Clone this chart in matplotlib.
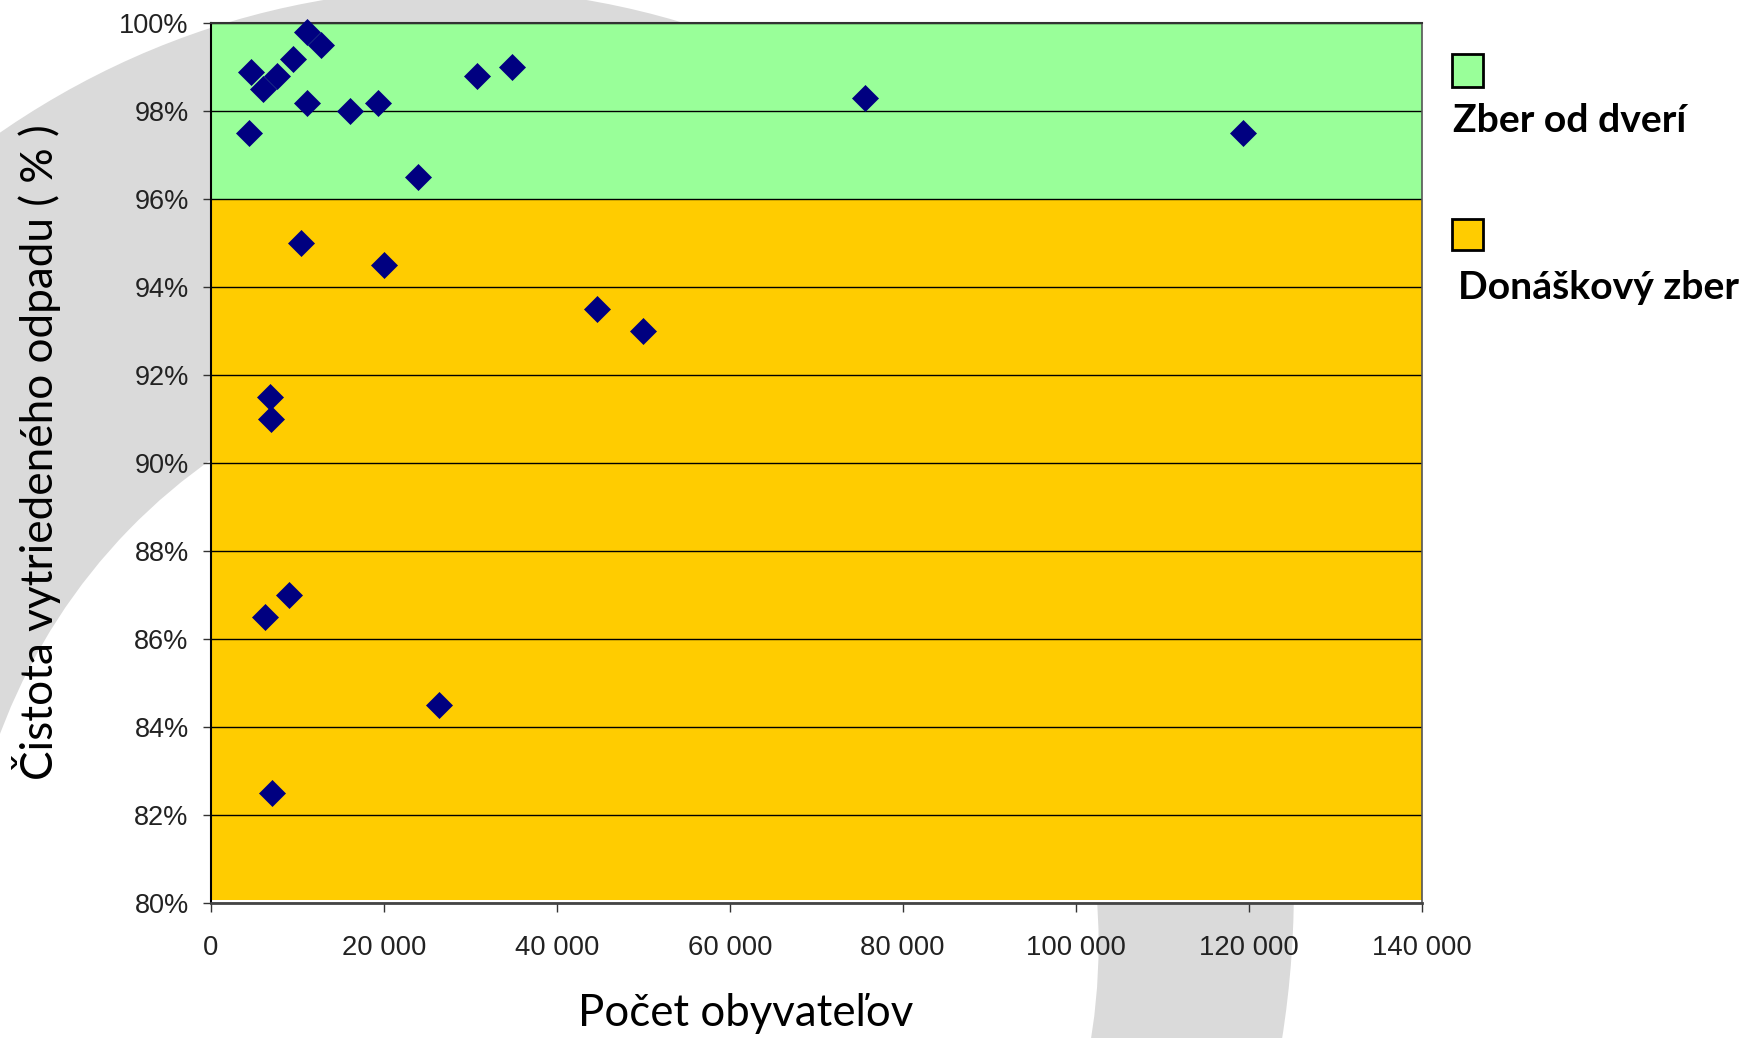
import matplotlib
matplotlib.use("Agg")
import matplotlib.pyplot as plt
from matplotlib.patches import Ellipse, Rectangle

# Počet obyvateľov (x) a čistota vytriedeného odpadu v % (y)
obyvatelia = [4600, 4400, 6000, 7600, 9500, 11100, 12700, 11100, 16100, 19300,
              23900, 30800, 34800, 75600, 119300,
              10400, 20000, 44700, 50000, 6800, 6900, 9000, 6200, 26400, 7100]
cistota = [98.9, 97.5, 98.5, 98.8, 99.2, 99.8, 99.5, 98.2, 98.0, 98.2,
           96.5, 98.8, 99.0, 98.3, 97.5,
           95.0, 94.5, 93.5, 93.0, 91.5, 91.0, 87.0, 86.5, 84.5, 82.5]

# pasma pozadia: (od, do, farba, popis)
pasma = [(96, 100, "#99ff99", "Zber od dverí"),
         (80, 96, "#ffcc00", "Donáškový zber")]

x_ticks = [0, 20000, 40000, 60000, 80000, 100000, 120000, 140000]
x_labels = ["0", "20 000", "40 000", "60 000", "80 000", "100 000", "120 000", "140 000"]
y_ticks = list(range(80, 101, 2))
y_labels = [f"{v}%" for v in y_ticks]

plt.rcParams["font.family"] = ["Liberation Sans", "DejaVu Sans"]

fig = plt.figure(figsize=(17.4, 10.38), dpi=100, facecolor="white")

# sivy oblúk z pozadia snímky
bg = fig.add_axes([0, 0, 1, 1], zorder=-1)
bg.set_xlim(0, 1568)
bg.set_ylim(935, 0)
bg.axis("off")
bg.add_patch(Ellipse((410, 800), 2 * 756, 2 * 810, color="#dadada", lw=0))
bg.add_patch(Ellipse((478, 850), 2 * 512, 2 * 527, color="white", lw=0))

ax = fig.add_axes([0.1212, 0.1298, 0.6958, 0.8477])
ax.set_facecolor("white")
ax.set_xlim(0, 140000)
ax.set_ylim(80, 100)

for od, do, farba, _ in pasma:
    ax.axhspan(od + (0.08 if od == 80 else 0), do, color=farba, lw=0, zorder=0)

ax.set_yticks(y_ticks)
ax.set_yticklabels(y_labels)
ax.set_xticks(x_ticks)
ax.set_xticklabels(x_labels)
ax.yaxis.grid(True, color="black", lw=1.0, zorder=1)
ax.set_axisbelow(True)

ax.plot(obyvatelia, cistota, "D", ms=13.5, color="#000080", mec="#000080",
        mew=0.5, clip_on=False, zorder=3)

ax.spines["left"].set_color("black")
ax.spines["left"].set_linewidth(1.5)
ax.spines["top"].set_color("#333333")
ax.spines["top"].set_linewidth(1.5)
ax.spines["bottom"].set_color("#444444")
ax.spines["bottom"].set_linewidth(2)
ax.spines["right"].set_color("#555555")
ax.spines["right"].set_linewidth(1.2)

ax.tick_params(axis="y", direction="out", length=6, width=1, color="#333333",
               pad=10, labelsize=19.5, labelcolor="#222222")
ax.tick_params(axis="x", direction="out", length=6.5, width=1, color="#333333",
               pad=16, labelsize=19.8, labelcolor="#222222")

fig.text(0.021, 0.5645, "Čistota vytriedeného odpadu ( % )", rotation=90,
         ha="center", va="center", fontsize=31.8, family=["Lato", "DejaVu Sans"])
fig.text(0.4286, 0.012, "Počet obyvateľov", ha="center", va="baseline",
         fontsize=31.5, family=["Lato", "DejaVu Sans"])

# legenda: štvorček nad textom
legenda_pozicie = [(0.9162, 0.0318, 0.8728), (0.7592, 0.0299, 0.712)]
for (od, do, farba, popis), (sy, sh, ty) in zip(pasma, legenda_pozicie):
    fig.patches.append(Rectangle((0.8345, sy), 0.0178, sh, transform=fig.transFigure,
                                 facecolor=farba, edgecolor="black", lw=2))
    fig.text(0.8350 if od == 96 else 0.8378, ty, popis, ha="left", va="baseline",
             fontsize=28.2, fontweight="bold", family=["Lato", "DejaVu Sans"])

fig.savefig("out.png", dpi=100, facecolor="white")
